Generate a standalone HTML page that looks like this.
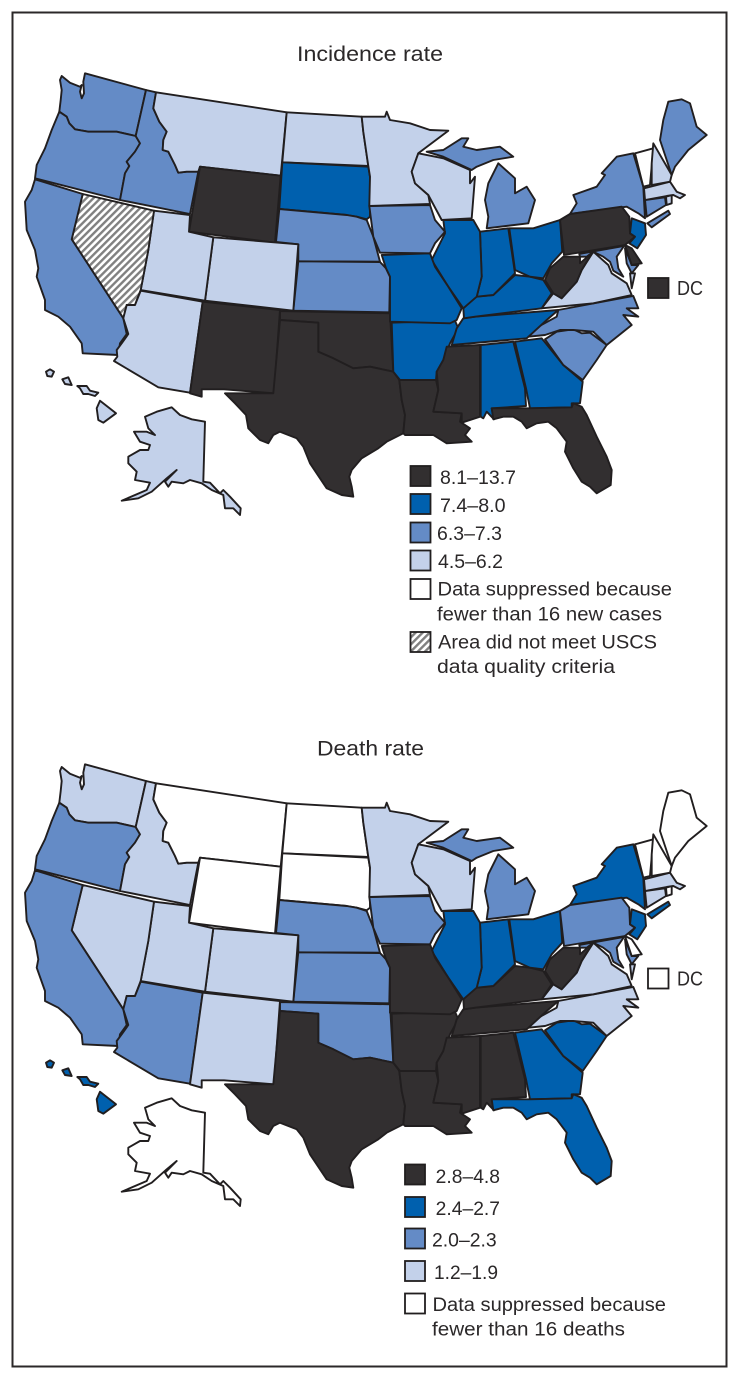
<!DOCTYPE html>
<html lang="en">
<head>
<meta charset="utf-8">
<title>Incidence and death rate maps</title>
<style>
html,body{margin:0;padding:0;background:#fff;}
svg{display:block;}
text{font-family:"Liberation Sans",sans-serif;fill:#2b2829;}
.state{stroke:#211e1f;stroke-width:1.9;stroke-linejoin:round;}
.swatch{stroke:#211e1f;stroke-width:1.8;}
.dark{fill:#322f30;}
.strong{fill:#0060ae;}
.mid{fill:#648bc6;}
.light{fill:#c3d1ea;}
.none{fill:#fff;}
.hatch{fill:url(#hatch-pattern);}
.lg{font-size:19px;}
.ttl{font-size:21.5px;}
</style>
</head>
<body>
<svg id="figure" xmlns="http://www.w3.org/2000/svg" width="741" height="1381" viewBox="0 0 741 1381">
<defs>
<pattern id="hatch-pattern" width="5" height="5" patternUnits="userSpaceOnUse" patternTransform="rotate(45)">
<rect width="5" height="5" fill="#fff"/>
<rect width="2.4" height="5" fill="#808080"/>
</pattern>
</defs>
<rect x="12.5" y="12.5" width="714" height="1354" fill="#fff" stroke="#2b2829" stroke-width="2"/>

<text class="ttl" x="297" y="61" textLength="146" lengthAdjust="spacingAndGlyphs">Incidence rate</text>
<text class="ttl" x="317" y="755.5" textLength="107" lengthAdjust="spacingAndGlyphs">Death rate</text>

<g id="incidence-map"></g>
<g id="death-map" transform="translate(0,691)"></g>

<g>
<rect class="swatch dark" x="648" y="278" width="20.5" height="20"/>
<text x="677" y="295" font-size="20" textLength="26" lengthAdjust="spacingAndGlyphs">DC</text>
</g>
<g>
<rect class="swatch none" x="648" y="968.5" width="20.5" height="20"/>
<text x="677" y="985.7" font-size="20" textLength="26" lengthAdjust="spacingAndGlyphs">DC</text>
</g>

<g>
<rect class="swatch dark" x="410.5" y="466" width="20" height="20"/>
<text class="lg" x="440" y="484" textLength="76" lengthAdjust="spacingAndGlyphs">8.1–13.7</text>
<rect class="swatch strong" x="410.5" y="494" width="20" height="20"/>
<text class="lg" x="440" y="512" textLength="65.5" lengthAdjust="spacingAndGlyphs">7.4–8.0</text>
<rect class="swatch mid" x="410.5" y="522.5" width="20" height="20"/>
<text class="lg" x="437" y="540" textLength="65" lengthAdjust="spacingAndGlyphs">6.3–7.3</text>
<rect class="swatch light" x="410.5" y="550.5" width="20" height="20"/>
<text class="lg" x="438" y="568" textLength="65" lengthAdjust="spacingAndGlyphs">4.5–6.2</text>
<rect class="swatch none" x="410.5" y="579" width="20" height="20"/>
<text class="lg" x="437.5" y="595.7" textLength="234.5" lengthAdjust="spacingAndGlyphs">Data suppressed because</text>
<text class="lg" x="437" y="620.7" textLength="225" lengthAdjust="spacingAndGlyphs">fewer than 16 new cases</text>
<rect class="swatch hatch" x="410.5" y="632" width="20" height="20"/>
<text class="lg" x="438" y="648.3" textLength="219" lengthAdjust="spacingAndGlyphs">Area did not meet USCS</text>
<text class="lg" x="437" y="673" textLength="178" lengthAdjust="spacingAndGlyphs">data quality criteria</text>
</g>

<g>
<rect class="swatch dark" x="405" y="1164.5" width="20" height="20"/>
<text class="lg" x="435.7" y="1183" textLength="64.3" lengthAdjust="spacingAndGlyphs">2.8–4.8</text>
<rect class="swatch strong" x="405" y="1197" width="20" height="20"/>
<text class="lg" x="435.7" y="1215" textLength="64.3" lengthAdjust="spacingAndGlyphs">2.4–2.7</text>
<rect class="swatch mid" x="405" y="1228.5" width="20" height="20"/>
<text class="lg" x="432" y="1246.7" textLength="64.7" lengthAdjust="spacingAndGlyphs">2.0–2.3</text>
<rect class="swatch light" x="405" y="1261" width="20" height="20"/>
<text class="lg" x="434" y="1279" textLength="64" lengthAdjust="spacingAndGlyphs">1.2–1.9</text>
<rect class="swatch none" x="405" y="1293.5" width="20" height="20"/>
<text class="lg" x="432.5" y="1311" textLength="233.5" lengthAdjust="spacingAndGlyphs">Data suppressed because</text>
<text class="lg" x="432" y="1335.7" textLength="193" lengthAdjust="spacingAndGlyphs">fewer than 16 deaths</text>
</g>
</svg>

<script>
// Map data: rate class of each state, for each of the two maps.
const stateCodes = ["WA","OR","ID","MT","WY","ND","SD","NE","KS","CO","UT","NV","CA","AZ","NM","OK","TX","AR","LA","MS","AL","GA","FL","SC","NC","VA","TN","KY","WV","OH","IN","IL","MO","IA","MN","WI","MI","NY","PA","NJ","MD","DE","CT","RI","MA","VT","NH","ME","AK","HI"];
const incidenceClasses = ["mid","mid","mid","light","dark","light","strong","mid","mid","light","light","hatch","mid","light","dark","dark","dark","strong","dark","dark","strong","strong","dark","mid","mid","light","strong","strong","dark","strong","strong","strong","strong","mid","light","light","mid","mid","dark","strong","mid","dark","mid","light","light","none","light","mid","light","light"];
const deathClasses = ["light","mid","light","none","none","none","none","mid","mid","light","light","light","mid","mid","light","mid","dark","dark","dark","dark","dark","strong","strong","strong","light","light","dark","dark","dark","strong","strong","strong","dark","mid","light","light","mid","strong","mid","strong","mid","none","light","none","light","none","none","none","none","strong"];

// Base geography: each part is [frame, outline]; outlines are in 3x units relative to a frame origin.
const frames = {A:[20,60],B:[360,60],C:[20,300],D:[220,300]};
const stateShapes = {
WA:[["A","195,40 378,90 347,228 290,215 240,215 205,215 165,208 148,190 140,170 118,155 122,120 125,90 120,60 125,48 150,68 180,80 185,75 180,95 185,115 192,100 190,65"]],
OR:[["A","118,155 140,170 148,190 165,208 205,215 240,215 290,215 347,228 360,250 345,275 320,305 328,318 315,340 300,420 45,355 50,315 75,265 95,210"]],
ID:[["A","378,90 408,97 400,145 418,185 440,215 430,240 428,270 445,275 465,315 475,338 500,335 535,335 510,462 300,420 315,340 328,318 320,305 345,275 360,250 347,228"]],
MT:[["A","408,97 800,157 782,347 540,320 535,335 500,335 475,338 465,315 445,275 428,270 430,240 440,215 418,185 400,145"]],
WY:[["A","540,320 782,347 765,548 507,515"]],
ND:[["A","800,157 1025,170 1030,215 1045,318 787,307"]],
SD:[["A","787,307 1045,320 1050,350 1050,470 1040,478 1010,470 980,465 778,447"]],
NE:[["A","778,447 980,465 1010,470 1040,480 1060,530 1080,605 835,604 835,553 768,546"]],
KS:[["A","835,604 1080,606 1098,625 1110,650 1108,757 820,752"]],
CO:[["A","580,532 835,553 820,752 555,722"]],
UT:[["A","402,452 510,465 507,515 580,532 555,722 362,690 385,570"]],
NV:[["A","188,402 402,452 385,570 362,690 345,735 320,735 310,775 155,538"]],
CA:[["A","45,358 188,402 155,538 310,775 320,822 300,850 295,885 188,880 185,850 150,800 115,770 75,750 75,720 50,650 55,625 45,570 20,510 15,425 35,390"]],
AZ:[["A","320,735 345,735 362,692 548,725 510,998 415,982 282,903 292,890 290,870 305,850 325,822 310,775"]],
NM:[["C","548,5 780,30 762,280 612,268 545,268 545,290 510,280"]],
OK:[["D","180,33 510,40 520,215 450,200 400,205 340,175 295,155 295,68 180,60"]],
TX:[["D","180,60 295,68 295,155 340,175 400,205 450,200 520,215 538,240 545,300 555,345 550,400 500,425 475,445 425,475 395,510 388,530 395,560 400,590 365,585 320,565 300,535 270,490 250,440 230,415 180,395 160,405 145,430 120,420 85,385 78,345 45,310 15,280 160,280"]],
AR:[["D","515,68 705,62 715,85 690,130 670,180 650,215 648,240 540,240 520,215"]],
LA:[["D","538,240 648,240 655,270 640,335 725,340 720,365 750,385 735,405 755,425 680,430 640,405 555,405 550,400 555,345 545,300"]],
MS:[["D","680,140 780,135 780,350 725,368 725,340 640,335 655,270 650,215 670,180"]],
AL:[["D","782,135 880,125 915,265 918,318 815,325 822,358 800,335 790,355 782,350"]],
GA:[["D","885,125 965,115 1030,195 1088,245 1080,310 1055,310 1055,322 930,325 918,265"]],
FL:[["D","815,325 930,325 1055,322 1060,310 1085,320 1100,345 1130,410 1160,470 1175,510 1172,555 1130,580 1110,560 1085,545 1060,505 1035,455 1040,425 1010,385 985,365 950,370 920,385 905,365 880,350 850,350 820,358"]],
SC:[["D","975,118 1010,95 1060,88 1085,100 1110,98 1160,135 1130,180 1088,240 1030,195"]],
NC:[["B","595,750 820,708 835,745 800,745 835,770 790,765 815,795 740,855 700,815 640,810 600,810 555,825 505,830 535,800 590,770"]],
VA:[["B","545,745 580,700 605,715 650,665 665,630 700,575 745,615 755,640 800,670 815,705 700,730"],["B","810,640 825,640 815,685"]],
TN:[["B","345,770 595,750 560,780 500,835 275,855 290,805 310,775"]],
KY:[["B","310,745 345,710 400,705 465,645 510,650 550,660 575,700 545,745 345,770 312,775"]],
WV:[["B","555,660 570,625 610,590 660,590 660,610 700,575 680,605 665,630 650,665 605,715 580,700"]],
OH:[["B","448,505 520,505 600,480 607,575 575,610 550,655 510,650 465,630"]],
IN:[["B","360,515 445,505 465,640 400,705 350,710 365,650"]],
IL:[["B","250,480 340,480 360,515 365,650 350,710 310,745 265,680 215,600 255,520"]],
MO:[["B","65,585 210,580 225,620 265,680 305,745 290,780 270,790 90,785 90,650 78,625"]],
IA:[["B","28,438 210,435 225,480 255,515 225,550 210,580 60,578 40,530"]],
MN:[["B","5,170 75,170 80,155 90,180 150,190 210,210 265,212 175,280 155,335 165,370 205,405 210,432 28,438 30,350 25,318 10,215"]],
WI:[["B","175,280 250,295 330,330 330,370 345,350 335,475 245,480 205,405 165,370 155,335"]],
MI:[["B","200,275 250,270 305,235 325,235 310,260 350,270 420,260 460,290 400,300 350,320 335,330 250,290"],["B","415,310 465,355 465,400 500,380 525,420 505,490 380,505 385,470 375,420 385,370 400,340"]],
NY:[["B","630,462 650,430 640,405 710,380 735,345 725,340 770,290 820,280 850,380 855,475 835,460 800,440"],["B","862,490 925,452 930,462 875,502"]],
PA:[["B","600,480 630,462 785,440 808,470 810,520 825,530 795,555 612,585"]],
NJ:[["B","815,475 855,490 858,525 832,565 808,550 825,530 810,520"]],
MD:[["B","658,582 792,558 770,590 775,625 790,650 760,632 750,605 730,590 700,575 680,590 660,590"],["B","795,565 815,615 835,615 815,640 800,610"]],
DE:[["B","795,555 815,565 845,610 815,615"]],
CT:[["B","855,420 915,412 918,435 860,470"]],
RI:[["B","918,410 935,405 935,430 920,435"]],
MA:[["B","852,385 930,365 950,395 975,405 960,415 940,405 920,408 855,420"]],
VT:[["B","825,280 880,265 870,375 850,380"]],
NH:[["B","880,250 935,345 930,365 875,375 875,310"]],
ME:[["B","900,240 910,180 925,125 965,118 990,130 1010,200 1040,225 985,270 945,320 935,345"]],
AK:[["C","375,350 410,335 455,322 480,345 515,358 555,365 550,545 570,548 600,580 610,570 630,590 662,625 660,645 640,625 615,625 610,585 575,570 545,550 510,540 490,550 455,545 445,560 435,545 470,510 440,535 395,575 355,595 305,602 380,570 390,548 345,540 350,515 325,490 325,470 360,450 385,450 390,435 360,425 342,395 380,395 405,405 385,385"]],
HI:[["C","240,302 288,340 250,368 235,360 230,325"],["C","78,215 90,208 102,215 95,230 82,228"],["C","127,238 145,232 155,255 135,252"],["C","172,258 200,258 210,272 235,278 225,288 205,282 190,282 180,265"]]
};

// Convert one outline to an SVG path in page coordinates.
function outlineToPath(part){
  const origin = frames[part[0]];
  const pts = part[1].split(" ").map(function(p){
    const xy = p.split(",");
    return (origin[0] + xy[0] / 3).toFixed(1) + " " + (origin[1] + xy[1] / 3).toFixed(1);
  });
  return "M" + pts.join("L") + "Z";
}

function drawMap(groupId, classes, prefix){
  const group = document.getElementById(groupId);
  stateCodes.forEach(function(code, i){
    const el = document.createElementNS("http://www.w3.org/2000/svg", "path");
    el.setAttribute("d", stateShapes[code].map(outlineToPath).join(""));
    el.setAttribute("class", "state " + classes[i]);
    
    
    group.appendChild(el);
  });
}

drawMap("incidence-map", incidenceClasses, "incidence");
drawMap("death-map", deathClasses, "death");
</script>
</body>
</html>
